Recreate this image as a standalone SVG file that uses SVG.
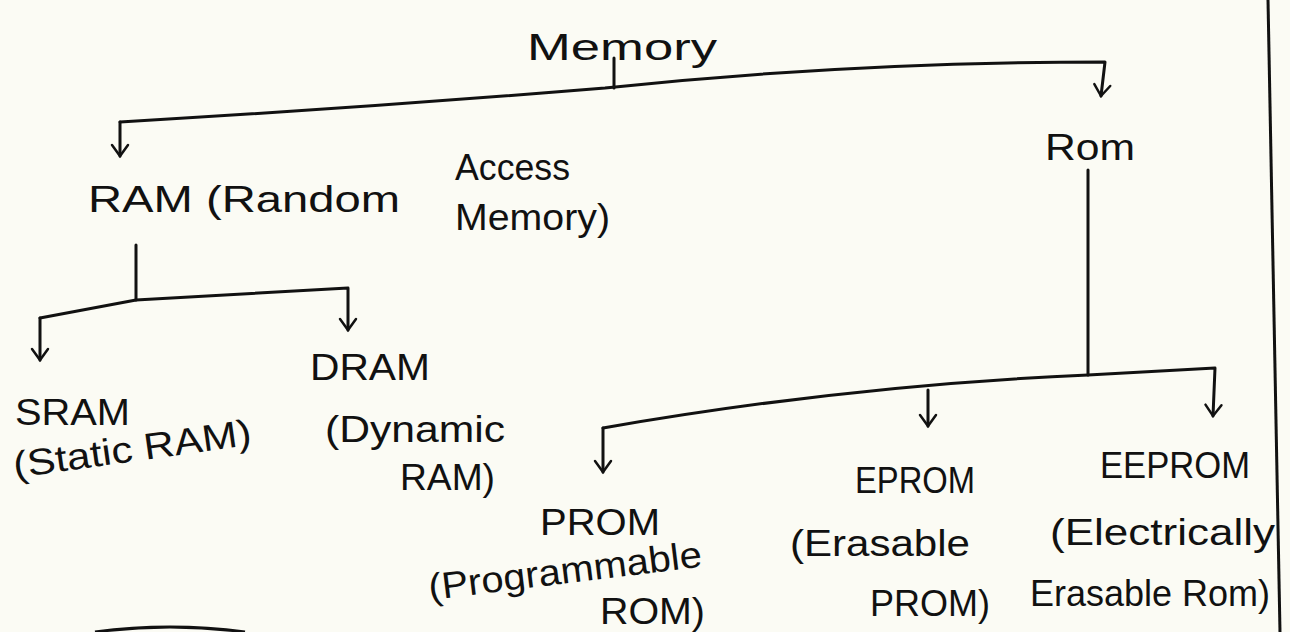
<svg xmlns="http://www.w3.org/2000/svg" width="1290" height="632" viewBox="0 0 1290 632">
<style>
text{font-family:"Liberation Sans",Arial,sans-serif;font-size:37px;fill:#111;}
.c{fill:none;stroke:#111;stroke-width:3;stroke-linecap:round;stroke-linejoin:round;}
</style>
<defs>
<marker id="ah" markerUnits="userSpaceOnUse" markerWidth="24" markerHeight="24" refX="0" refY="0" viewBox="-14 -12 16 24" orient="auto">
<path d="M-11,-8 L0,0 L-11,8" fill="none" stroke="#111" stroke-width="2.5" stroke-linecap="round"/>
</marker>
</defs>
<rect width="1290" height="632" fill="#fbfbf4"/>
<path d="M1268,0 L1280,632" stroke="#111" stroke-width="3" fill="none"/>
<path d="M95,632 Q170,622 245,632" stroke="#111" stroke-width="3" fill="none"/>
<g id="connectors">
<path class="c" d="M614,58 L614,88"/>
<path class="c" d="M120,122 Q360,108 605,88 Q850,62 1105,62 L1101,96" marker-end="url(#ah)"/>
<path class="c" d="M120,122 L120,156" marker-end="url(#ah)"/>
<path class="c" d="M136,245 L136,300"/>
<path class="c" d="M40,318 L136,300 L348,288 L348,330" marker-end="url(#ah)"/>
<path class="c" d="M40,318 L40,360" marker-end="url(#ah)"/>
<path class="c" d="M1088,170 L1088,375"/>
<path class="c" d="M603,428 Q850,385 1088,375 L1215,368 L1213,416" marker-end="url(#ah)"/>
<path class="c" d="M603,428 L603,472" marker-end="url(#ah)"/>
<path class="c" d="M928,390 L928,426" marker-end="url(#ah)"/>
</g>
<g id="memory"><text x="527" y="60" font-size="40" textLength="190" lengthAdjust="spacingAndGlyphs">Memory</text></g>
<g id="ram">
<text x="88" y="212" textLength="312" lengthAdjust="spacingAndGlyphs">RAM (Random</text>
<text x="455" y="180" textLength="115" lengthAdjust="spacingAndGlyphs">Access</text>
<text x="455" y="230" textLength="155" lengthAdjust="spacingAndGlyphs">Memory)</text>
</g>
<g id="rom"><text x="1045" y="160" textLength="90" lengthAdjust="spacingAndGlyphs">Rom</text></g>
<g id="sram">
<text x="15" y="425" textLength="115" lengthAdjust="spacingAndGlyphs">SRAM</text>
<text x="15" y="478" textLength="240" lengthAdjust="spacingAndGlyphs" transform="rotate(-8 15 478)">(Static RAM)</text>
</g>
<g id="dram">
<text x="310" y="380" textLength="120" lengthAdjust="spacingAndGlyphs">DRAM</text>
<text x="325" y="442" textLength="180" lengthAdjust="spacingAndGlyphs">(Dynamic</text>
<text x="400" y="490" textLength="95" lengthAdjust="spacingAndGlyphs">RAM)</text>
</g>
<g id="prom">
<text x="540" y="535" textLength="120" lengthAdjust="spacingAndGlyphs">PROM</text>
<text x="430" y="600" textLength="275" lengthAdjust="spacingAndGlyphs" transform="rotate(-7 430 600)">(Programmable</text>
<text x="600" y="624" textLength="105" lengthAdjust="spacingAndGlyphs">ROM)</text>
</g>
<g id="eprom">
<text x="855" y="493" textLength="120" lengthAdjust="spacingAndGlyphs">EPROM</text>
<text x="790" y="556" textLength="180" lengthAdjust="spacingAndGlyphs">(Erasable</text>
<text x="870" y="616" textLength="120" lengthAdjust="spacingAndGlyphs">PROM)</text>
</g>
<g id="eeprom">
<text x="1100" y="478" textLength="150" lengthAdjust="spacingAndGlyphs">EEPROM</text>
<text x="1050" y="545" textLength="225" lengthAdjust="spacingAndGlyphs">(Electrically</text>
<text x="1030" y="606" textLength="240" lengthAdjust="spacingAndGlyphs">Erasable Rom)</text>
</g>
</svg>
